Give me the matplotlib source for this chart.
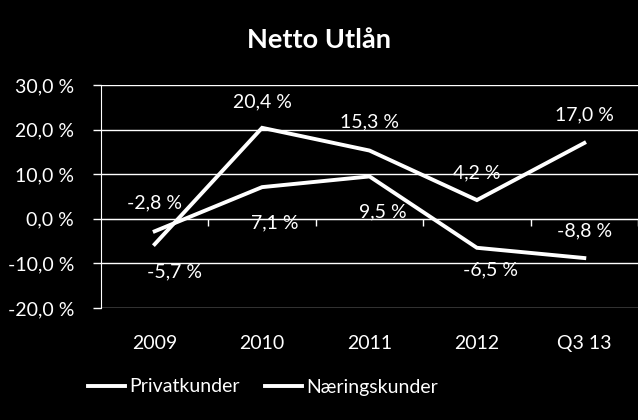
import matplotlib
matplotlib.use('Agg')
import matplotlib.pyplot as plt

categories = ['2009', '2010', '2011', '2012', 'Q3 13']
privat = [-2.8, 7.1, 9.5, -6.5, -8.8]
naering = [-5.7, 20.4, 15.3, 4.2, 17.0]
yticks = [-20, -10, 0, 10, 20, 30]
title = 'Netto Utlån'
series_names = ['Privatkunder', 'Næringskunder']

# label offsets in pixels (dx, dy), screen up is positive
privat_off = [(0, 28), (13, -36), (13, -35), (14, -22), (0, 27)]
naering_off = [(20, -28), (0, 26), (0, 29), (0, 27), (0, 28)]

plt.rcParams['font.family'] = ['Lato', 'DejaVu Sans']
fs = 14

fig = plt.figure(figsize=(6.38, 4.2), dpi=100, facecolor='black')
ax = fig.add_axes([101 / 638, 1 - 308 / 420, 537 / 638, 223 / 420])
ax.set_facecolor('black')

x = list(range(len(categories)))
ax.plot(x, privat, color='white', lw=2.8, label=series_names[0],
        solid_joinstyle='miter', zorder=3)
ax.plot(x, naering, color='white', lw=2.8, label=series_names[1],
        solid_joinstyle='miter', zorder=3)


def fmt(v):
    return ('%.1f %%' % v).replace('.', ',')


for vals, offs in ((privat, privat_off), (naering, naering_off)):
    for i, v in enumerate(vals):
        ax.annotate(fmt(v), (i, v), xytext=offs[i], textcoords='offset pixels',
                    ha='center', va='center', color='white', fontsize=fs,
                    zorder=4)

ax.set_ylim(-20, 30)
ax.set_xlim(-0.5, len(categories) - 0.5)
ax.set_yticks(yticks)
ax.set_yticklabels([fmt(t) for t in yticks])
ax.yaxis.grid(True, color='white', lw=1)
ax.tick_params(axis='y', colors='white', labelsize=fs, length=6, width=1,
               pad=13.5)

for s in ['top', 'right']:
    ax.spines[s].set_visible(False)
ax.spines['left'].set_color('white')
ax.spines['bottom'].set_color('white')
ax.spines['bottom'].set_position(('data', 0))

ax.set_xticks([i + 0.5 for i in range(len(categories))])
ax.set_xticklabels([])
ax.tick_params(axis='x', colors='white', length=5, width=1, direction='out')

sec = ax.secondary_xaxis(0.0)
sec.set_xticks(x)
sec.set_xticklabels(categories)
sec.spines['bottom'].set_visible(False)
sec.tick_params(axis='x', colors='white', labelsize=fs, length=0, pad=19.5)

fig.text(0.5, 1 - 40 / 420, title, ha='center', va='center', color='white',
         fontsize=19.5, fontweight='bold')

leg = fig.legend(loc='center', bbox_to_anchor=(263 / 638, 1 - 387 / 420),
                 ncol=2, frameon=False, fontsize=fs, handlelength=1.9,
                 handletextpad=0.2, columnspacing=1.3)
for t in leg.get_texts():
    t.set_color('white')

fig.savefig('out.png', dpi=100, facecolor='black')
